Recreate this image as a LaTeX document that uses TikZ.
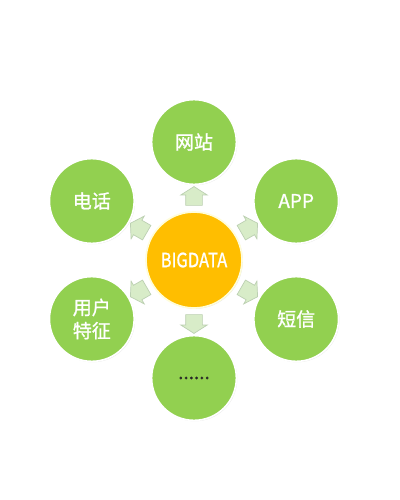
\documentclass[tikz,border=0pt]{standalone}
\usepackage{fontspec}
\setmainfont{Noto Sans CJK SC}[FakeBold=1.2]
\usetikzlibrary{calc,shapes.arrows,shadows}

\definecolor{leafgreen}{RGB}{146,208,80}
\definecolor{coregold}{RGB}{255,190,0}
\definecolor{flowfill}{RGB}{216,236,200}
\definecolor{flowedge}{RGB}{188,208,178}

\tikzset{
  leaf/.style={circle, minimum size=2.12cm, fill=leafgreen, draw=white, line width=1.2pt,
    text=white, align=center, font=\fontsize{13.5}{16.5}\selectfont,
    drop shadow={opacity=0.2, shadow xshift=0.6pt, shadow yshift=-0.6pt}},
  core/.style={circle, minimum size=2.4cm, fill=coregold, draw=white!85!yellow, line width=1.2pt,
    text=white, font=\fontsize{14}{16}\selectfont,
    drop shadow={opacity=0.2, shadow xshift=0.6pt, shadow yshift=-0.6pt}},
  flow/.style={single arrow, minimum height=0.47cm, inner xsep=0pt, inner ysep=0.2cm,
    single arrow head extend=0.12cm, single arrow tip angle=115,
    fill=flowfill, draw=flowedge, line width=0.5pt}
}

\begin{document}
\begin{tikzpicture}
  \fill[white] (0,0) rectangle (10,12.5);
  \useasboundingbox (0,0) rectangle (10,12.5);

  % nodes
  \node[core] (bigdata) at (4.85,6.0) {\scalebox{0.84}[1]{BIGDATA}};
  \node[leaf] (web) at ($(bigdata)+(90:2.95)$) {网站};
  \node[leaf] (app) at ($(bigdata)+(30:2.95)$) {APP};
  \node[leaf] (sms) at ($(bigdata)+(-30:2.95)$) {短信};
  \node[leaf, text=black!85] (more) at ($(bigdata)+(-90:2.95)$) {......};
  \node[leaf] (user) at ($(bigdata)+(210:2.95)$) {用户\\特征};
  \node[leaf] (phone) at ($(bigdata)+(150:2.95)$) {电话};

  % arrows
  \foreach \t/\a in {web/90, app/30, sms/-30, more/-90, user/210, phone/150}
    \node[flow, rotate=\a] (flow-\t) at ($(bigdata)!0.52!(\t)$) {};
\end{tikzpicture}
\end{document}
